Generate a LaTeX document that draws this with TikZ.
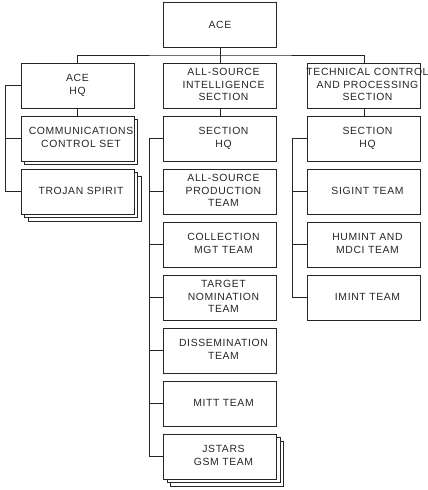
\documentclass[tikz,border=0pt]{standalone}
\usepackage{fontspec}
\setmainfont{Liberation Sans}[LetterSpace=6]
\usetikzlibrary{shadows}

\newcommand{\shl}[1]{\begin{tabular}{@{\hspace{7pt}}c@{}}#1\end{tabular}}

\tikzset{
  unit/.style={draw=black!85, line width=1pt, fill=white, minimum width=113pt,
    minimum height=45pt, inner sep=0pt, align=center, text=black!85,
    font=\fontsize{10.4}{12.5}\selectfont},
  stack/.style={unit, copy shadow={shadow xshift=3.5pt, shadow yshift=-3.5pt,
    draw=black!85, line width=1pt}},
  stacks/.style={unit, copy shadow={shadow xshift=7pt, shadow yshift=-7pt,
    draw=black!85, line width=1pt}, copy shadow={shadow xshift=3.5pt,
    shadow yshift=-3.5pt, draw=black!85, line width=1pt}},
  link/.style={draw=black!85, line width=1pt}
}

\begin{document}
\begin{tikzpicture}[x=1pt, y=-1pt]
\useasboundingbox (0,0) rectangle (428,490);

% top
\node [unit] (ace) at (220,25) {ACE};
\node [unit] (acehq) at (77.5,85.5) {ACE\\HQ};
\node [unit] (allsrc) at (220,85.5) {\shl{ALL-SOURCE\\INTELLIGENCE\\SECTION}};
\node [unit] (tcp) at (364,85.5) {\shl{\makebox[0pt]{TECHNICAL CONTROL}\\AND PROCESSING\\SECTION}};

% ACE HQ
\node [stack] (ccs) at (77.5,138.5) {\shl{COMMUNICATIONS\\CONTROL SET}};
\node [stacks] (trojan) at (77.5,191.5) {\shl{TROJAN SPIRIT}};

% all-source section
\node [unit] (sechq) at (220,138.5) {\shl{SECTION\\HQ}};
\node [unit] (asprod) at (220,191.5) {\shl{ALL-SOURCE\\PRODUCTION\\TEAM}};
\node [unit] (colmgt) at (220,244.5) {\shl{COLLECTION\\MGT TEAM}};
\node [unit] (tgtnom) at (220,297.5) {\shl{TARGET\\NOMINATION\\TEAM}};
\node [unit] (dissem) at (220,350.5) {\shl{DISSEMINATION\\TEAM}};
\node [unit] (mitt) at (220,403.5) {\shl{MITT TEAM}};
\node [stacks] (jstars) at (220,456.5) {\shl{JSTARS\\GSM TEAM}};

% technical control section
\node [unit] (tsechq) at (364,138.5) {\shl{SECTION\\HQ}};
\node [unit] (sigint) at (364,191.5) {\shl{SIGINT TEAM}};
\node [unit] (humint) at (364,244.5) {\shl{HUMINT AND\\MDCI TEAM}};
\node [unit] (imint) at (364,297.5) {\shl{IMINT TEAM}};

% links
\coordinate (bus) at (220,55);
\coordinate (lbar) at (5,0);
\coordinate (mbar) at (149,0);
\coordinate (rbar) at (292,0);
\draw [link] (ace) -- (allsrc);
\draw [link] (acehq.north) |- (bus) -| (tcp.north);
\draw [link] (acehq) -- (ccs);
\draw [link] (allsrc) -- (sechq);
\draw [link] (tcp) -- (tsechq);

\draw [link] (acehq.west) -- (acehq.west -| lbar) |- (trojan.west);
\draw [link] (ccs.west -| lbar) -- (ccs.west);

\draw [link] (sechq.west) -- (sechq.west -| mbar) |- (jstars.west);
\foreach \n in {asprod,colmgt,tgtnom,dissem,mitt}
  \draw [link] (\n.west -| mbar) -- (\n.west);

\draw [link] (tsechq.west) -- (tsechq.west -| rbar) |- (imint.west);
\foreach \n in {sigint,humint}
  \draw [link] (\n.west -| rbar) -- (\n.west);
\end{tikzpicture}
\end{document}
